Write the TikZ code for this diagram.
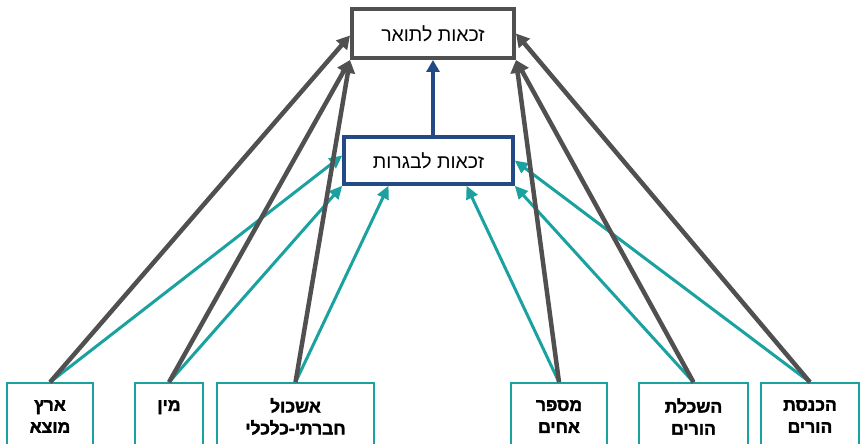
\documentclass[tikz,border=0pt]{standalone}
\usepackage{fontspec}
\newfontfamily\hebfont[Script=Hebrew]{Liberation Sans}
\newfontfamily\hebbold[Script=Hebrew, FakeBold=2]{Liberation Sans Bold}
\TeXXeTstate=1
\usetikzlibrary{arrows.meta}
\usetikzlibrary{calc}
\definecolor{linegray}{HTML}{505050}
\definecolor{lineteal}{HTML}{1BA1A0}
\definecolor{lineblue}{HTML}{244A86}
\newcommand{\heb}[1]{\beginR #1\endR}
\tikzset{
  goalbox/.style={draw=linegray, line width=4pt, fill=white, inner sep=0pt,
    minimum width=162pt, minimum height=49pt, font=\hebfont\fontsize{19.5}{22}\selectfont},
  midbox/.style={draw=lineblue, line width=3.5pt, fill=white, inner sep=0pt,
    minimum width=169pt, minimum height=47pt, font=\hebfont\fontsize{19.5}{22}\selectfont},
  factor/.style={draw=lineteal, line width=1.5pt, fill=white, inner sep=0pt, align=center,
    minimum height=67pt, font=\hebbold\fontsize{17.5}{22}\selectfont},
  togray/.style={draw=linegray, line width=4.5pt, -{Triangle[length=13pt, width=14pt]}},
  toteal/.style={draw=lineteal, line width=3pt, -{Triangle[length=13pt, width=12pt]}},
  toblue/.style={draw=lineblue, line width=4pt, -{Triangle[length=12pt, width=13pt]}}
}
\begin{document}
\begin{tikzpicture}[x=1pt, y=-1pt]
    \clip (0,0) rectangle (860,444);
    \node[goalbox] (tuar) at (433,33.5) {\heb{זכאות לתואר}};
    \node[midbox] (bagrut) at (428.5,160.5) {\heb{זכאות לבגרות}};
    \node[factor, minimum width=86pt] (eretz) at (50,416.5) {\heb{ארץ}\\\heb{מוצא}};
    \node[factor, minimum width=68pt] (min) at (169,416.5) {\heb{מין}\\~};
    \node[factor, minimum width=157pt] (eshkol) at (295.5,416.5) {\heb{אשכול}\\\heb{חברתי-כלכלי}};
    \node[factor, minimum width=96pt] (ahim) at (559,416.5) {\heb{מספר}\\\heb{אחים}};
    \node[factor, minimum width=109pt] (haskala) at (693.5,416.5) {\heb{השכלת}\\\heb{הורים}};
    \node[factor, minimum width=98pt] (hahnasa) at (810,416.5) {\heb{הכנסת}\\\heb{הורים}};
    % to bagrut
    \draw[toteal] (eretz.north) -- ($(bagrut.west)+(0,-5)$);
    \draw[toteal] (min.north) -- (bagrut.south west);
    \draw[toteal] (eshkol.north) -- ($(bagrut.south)+(-40,0)$);
    \draw[toteal] (ahim.north) -- ($(bagrut.south)+(38,0)$);
    \draw[toteal] (haskala.north) -- (bagrut.south east);
    \draw[toteal] (hahnasa.north) -- (bagrut.east);
    % to tuar
    \draw[togray] (eretz.north) -- ($(tuar.west)+(0,2)$);
    \draw[togray] (min.north) -- (tuar.south west);
    \draw[togray] (eshkol.north) -- (tuar.south west);
    \draw[togray] (ahim.north) -- (tuar.south east);
    \draw[togray] (haskala.north) -- (tuar.south east);
    \draw[togray] (hahnasa.north) -- (tuar.east);
    \draw[toblue] (tuar.south |- bagrut.north) -- (tuar.south);
\end{tikzpicture}
\end{document}
